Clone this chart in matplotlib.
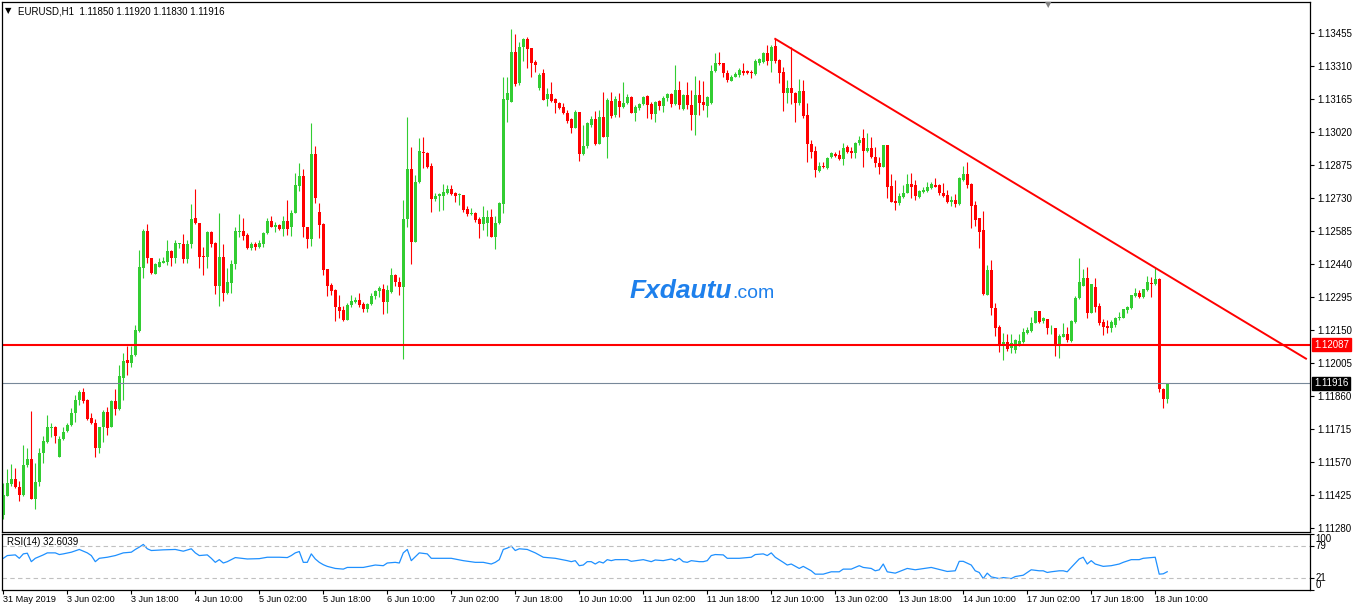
import numpy as np
import matplotlib.pyplot as plt

plt.rcParams['font.family'] = ['Liberation Sans', 'DejaVu Sans']

# ---- data: EURUSD H1 candles, bar 0 = 31 May 10:00 ----
opens = np.array([
    1.11339, 1.11423, 1.11475, 1.11497, 1.11461, 1.11427, 1.11556, 1.11584, 1.11411, 1.11484,
    1.11610, 1.11661, 1.11721, 1.11724, 1.11592, 1.11671, 1.11708, 1.11734, 1.11785, 1.11844,
    1.11878, 1.11844, 1.11764, 1.11742, 1.11632, 1.11724, 1.11793, 1.11727, 1.11837, 1.11803,
    1.11942, 1.12020, 1.12005, 1.12042, 1.12147, 1.12425, 1.12587, 1.12466, 1.12398, 1.12429,
    1.12447, 1.12448, 1.12498, 1.12469, 1.12529, 1.12529, 1.12461, 1.12529, 1.12641, 1.12620,
    1.12476, 1.12473, 1.12581, 1.12535, 1.12342, 1.12473, 1.12312, 1.12359, 1.12441, 1.12579,
    1.12586, 1.12568, 1.12510, 1.12529, 1.12517, 1.12529, 1.12576, 1.12631, 1.12605, 1.12612,
    1.12595, 1.12631, 1.12601, 1.12666, 1.12785, 1.12827, 1.12604, 1.12549, 1.12924, 1.12669,
    1.12617, 1.12419, 1.12349, 1.12327, 1.12254, 1.12239, 1.12195, 1.12261, 1.12276, 1.12283,
    1.12265, 1.12243, 1.12265, 1.12298, 1.12324, 1.12331, 1.12276, 1.12317, 1.12393, 1.12363,
    1.12339, 1.12637, 1.12858, 1.12539, 1.12802, 1.12934, 1.12927, 1.12871, 1.12725, 1.12740,
    1.12741, 1.12751, 1.12769, 1.12754, 1.12744, 1.12744, 1.12681, 1.12660, 1.12666, 1.12637,
    1.12617, 1.12619, 1.12649, 1.12558, 1.12622, 1.12703, 1.13161, 1.13153, 1.13373, 1.13234,
    1.13392, 1.13427, 1.13388, 1.13329, 1.13212, 1.13281, 1.13164, 1.13187, 1.13164, 1.13149,
    1.13129, 1.13105, 1.13076, 1.13036, 1.13107, 1.12924, 1.12959, 1.13051, 1.13076, 1.12968,
    1.13085, 1.13000, 1.13158, 1.13095, 1.13158, 1.13132, 1.13146, 1.13175, 1.13105, 1.13124,
    1.13142, 1.13178, 1.13143, 1.13099, 1.13156, 1.13134, 1.13168, 1.13187, 1.13143, 1.13205,
    1.13120, 1.13183, 1.13139, 1.13095, 1.13183, 1.13153, 1.13134, 1.13146, 1.13290, 1.13325,
    1.13322, 1.13281, 1.13246, 1.13260, 1.13271, 1.13290, 1.13288, 1.13285, 1.13275, 1.13325,
    1.13329, 1.13369, 1.13332, 1.13398, 1.13336, 1.13285, 1.13193, 1.13215, 1.13193, 1.13146,
    1.13200, 1.13095, 1.12968, 1.12937, 1.12850, 1.12872, 1.12861, 1.12912, 1.12922, 1.12919,
    1.12900, 1.12953, 1.12938, 1.12927, 1.12970, 1.12992, 1.12938, 1.12948, 1.12912, 1.12886,
    1.12868, 1.12963, 1.12783, 1.12719, 1.12707, 1.12736, 1.12754, 1.12792, 1.12788, 1.12736,
    1.12758, 1.12763, 1.12773, 1.12788, 1.12788, 1.12754, 1.12744, 1.12714, 1.12722, 1.12704,
    1.12810, 1.12836, 1.12792, 1.12700, 1.12641, 1.12590, 1.12305, 1.12414, 1.12249, 1.12166,
    1.12085, 1.12100, 1.12070, 1.12063, 1.12085, 1.12100, 1.12136, 1.12148, 1.12183, 1.12234,
    1.12192, 1.12198, 1.12158, 1.12158, 1.12090, 1.12122, 1.12133, 1.12104, 1.12188, 1.12290,
    1.12344, 1.12378, 1.12227, 1.12338, 1.12256, 1.12188, 1.12169, 1.12161, 1.12173, 1.12202,
    1.12205, 1.12239, 1.12246, 1.12300, 1.12312, 1.12297, 1.12327, 1.12359, 1.12353, 1.12373,
    1.11892, 1.11850])

highs = np.array([
    1.11478, 1.11540, 1.11563, 1.11544, 1.11486, 1.11647, 1.11632, 1.11797, 1.11566, 1.11632,
    1.11686, 1.11778, 1.11744, 1.11728, 1.11686, 1.11724, 1.11742, 1.11807, 1.11866, 1.11888,
    1.11898, 1.11848, 1.11785, 1.11759, 1.11727, 1.11800, 1.11815, 1.11844, 1.11891, 1.11998,
    1.12049, 1.12081, 1.12081, 1.12173, 1.12503, 1.12593, 1.12617, 1.12468, 1.12444, 1.12466,
    1.12473, 1.12546, 1.12503, 1.12546, 1.12535, 1.12573, 1.12546, 1.12704, 1.12770, 1.12622,
    1.12517, 1.12586, 1.12587, 1.12539, 1.12666, 1.12529, 1.12425, 1.12459, 1.12601, 1.12661,
    1.12641, 1.12576, 1.12539, 1.12539, 1.12546, 1.12579, 1.12641, 1.12652, 1.12627, 1.12617,
    1.12652, 1.12722, 1.12678, 1.12839, 1.12886, 1.12857, 1.12604, 1.13061, 1.12959, 1.12710,
    1.12620, 1.12419, 1.12359, 1.12331, 1.12305, 1.12257, 1.12268, 1.12305, 1.12295, 1.12315,
    1.12276, 1.12271, 1.12312, 1.12327, 1.12342, 1.12353, 1.12349, 1.12425, 1.12396, 1.12385,
    1.12722, 1.13085, 1.12956, 1.12832, 1.12993, 1.12997, 1.12934, 1.12883, 1.12751, 1.12754,
    1.12791, 1.12788, 1.12788, 1.12756, 1.12751, 1.12744, 1.12696, 1.12685, 1.12671, 1.12649,
    1.12696, 1.12678, 1.12681, 1.12652, 1.12715, 1.13263, 1.13263, 1.13472, 1.13450, 1.13417,
    1.13431, 1.13436, 1.13388, 1.13336, 1.13281, 1.13295, 1.13212, 1.13241, 1.13168, 1.13153,
    1.13149, 1.13117, 1.13080, 1.13117, 1.13107, 1.13051, 1.13066, 1.13091, 1.13114, 1.13117,
    1.13197, 1.13168, 1.13197, 1.13178, 1.13193, 1.13241, 1.13187, 1.13178, 1.13139, 1.13149,
    1.13178, 1.13183, 1.13153, 1.13158, 1.13161, 1.13178, 1.13190, 1.13193, 1.13314, 1.13246,
    1.13187, 1.13241, 1.13205, 1.13266, 1.13249, 1.13246, 1.13178, 1.13314, 1.13366, 1.13372,
    1.13322, 1.13292, 1.13271, 1.13285, 1.13300, 1.13322, 1.13292, 1.13292, 1.13339, 1.13344,
    1.13373, 1.13402, 1.13402, 1.13430, 1.13339, 1.13307, 1.13248, 1.13395, 1.13197, 1.13251,
    1.13248, 1.13149, 1.12985, 1.12959, 1.12890, 1.12890, 1.12912, 1.12934, 1.12934, 1.12941,
    1.12970, 1.12963, 1.12956, 1.12978, 1.13003, 1.13033, 1.13014, 1.12997, 1.12956, 1.12912,
    1.12963, 1.12963, 1.12836, 1.12810, 1.12751, 1.12788, 1.12836, 1.12842, 1.12810, 1.12766,
    1.12780, 1.12802, 1.12802, 1.12817, 1.12792, 1.12798, 1.12766, 1.12739, 1.12748, 1.12824,
    1.12871, 1.12890, 1.12795, 1.12719, 1.12641, 1.12675, 1.12436, 1.12458, 1.12271, 1.12173,
    1.12136, 1.12133, 1.12133, 1.12110, 1.12133, 1.12158, 1.12166, 1.12210, 1.12236, 1.12236,
    1.12207, 1.12198, 1.12173, 1.12158, 1.12133, 1.12180, 1.12166, 1.12195, 1.12300, 1.12466,
    1.12417, 1.12429, 1.12353, 1.12378, 1.12271, 1.12198, 1.12195, 1.12195, 1.12210, 1.12231,
    1.12242, 1.12256, 1.12305, 1.12334, 1.12327, 1.12330, 1.12388, 1.12385, 1.12422, 1.12378,
    1.11895, 1.11920])

lows = np.array([
    1.11320, 1.11420, 1.11464, 1.11456, 1.11402, 1.11420, 1.11551, 1.11411, 1.11364, 1.11466,
    1.11566, 1.11654, 1.11683, 1.11654, 1.11592, 1.11668, 1.11704, 1.11730, 1.11749, 1.11822,
    1.11829, 1.11756, 1.11739, 1.11595, 1.11613, 1.11657, 1.11690, 1.11724, 1.11778, 1.11800,
    1.11844, 1.11954, 1.11990, 1.12037, 1.12144, 1.12381, 1.12444, 1.12397, 1.12397, 1.12429,
    1.12444, 1.12437, 1.12434, 1.12447, 1.12510, 1.12447, 1.12447, 1.12510, 1.12617, 1.12425,
    1.12393, 1.12422, 1.12517, 1.12309, 1.12258, 1.12280, 1.12309, 1.12312, 1.12419, 1.12561,
    1.12546, 1.12505, 1.12503, 1.12500, 1.12513, 1.12517, 1.12573, 1.12605, 1.12583, 1.12590,
    1.12565, 1.12568, 1.12564, 1.12663, 1.12763, 1.12561, 1.12513, 1.12520, 1.12707, 1.12557,
    1.12393, 1.12302, 1.12305, 1.12192, 1.12202, 1.12192, 1.12195, 1.12254, 1.12268, 1.12254,
    1.12229, 1.12229, 1.12261, 1.12287, 1.12295, 1.12222, 1.12224, 1.12312, 1.12342, 1.12305,
    1.12023, 1.12605, 1.12440, 1.12539, 1.12795, 1.12861, 1.12861, 1.12668, 1.12719, 1.12675,
    1.12678, 1.12748, 1.12744, 1.12715, 1.12700, 1.12671, 1.12653, 1.12656, 1.12627, 1.12557,
    1.12590, 1.12564, 1.12558, 1.12505, 1.12617, 1.12666, 1.13066, 1.13153, 1.13222, 1.13227,
    1.13333, 1.13303, 1.13263, 1.13285, 1.13205, 1.13161, 1.13134, 1.13153, 1.13102, 1.13120,
    1.13098, 1.13058, 1.13017, 1.13036, 1.12894, 1.12919, 1.12949, 1.13044, 1.12963, 1.12968,
    1.12997, 1.12905, 1.13080, 1.13088, 1.13085, 1.13124, 1.13143, 1.13102, 1.13070, 1.13117,
    1.13139, 1.13080, 1.13076, 1.13066, 1.13117, 1.13110, 1.13158, 1.13129, 1.13139, 1.13120,
    1.13117, 1.13120, 1.13029, 1.13007, 1.13095, 1.13117, 1.13088, 1.13143, 1.13285, 1.13314,
    1.13260, 1.13238, 1.13244, 1.13260, 1.13260, 1.13271, 1.13275, 1.13256, 1.13271, 1.13314,
    1.13322, 1.13314, 1.13285, 1.13325, 1.13237, 1.13114, 1.13146, 1.13143, 1.13066, 1.13139,
    1.13080, 1.12890, 1.12905, 1.12821, 1.12846, 1.12861, 1.12856, 1.12908, 1.12912, 1.12897,
    1.12875, 1.12927, 1.12905, 1.12905, 1.12963, 1.12865, 1.12934, 1.12905, 1.12868, 1.12834,
    1.12865, 1.12729, 1.12714, 1.12678, 1.12700, 1.12729, 1.12751, 1.12729, 1.12722, 1.12729,
    1.12751, 1.12758, 1.12768, 1.12780, 1.12744, 1.12736, 1.12707, 1.12695, 1.12692, 1.12700,
    1.12807, 1.12773, 1.12597, 1.12608, 1.12510, 1.12305, 1.12305, 1.12217, 1.12125, 1.12056,
    1.12019, 1.12060, 1.12051, 1.12049, 1.12081, 1.12092, 1.12133, 1.12144, 1.12180, 1.12180,
    1.12183, 1.12132, 1.12133, 1.12037, 1.12027, 1.12119, 1.12100, 1.12100, 1.12180, 1.12286,
    1.12344, 1.12202, 1.12224, 1.12231, 1.12173, 1.12129, 1.12139, 1.12144, 1.12163, 1.12195,
    1.12202, 1.12227, 1.12242, 1.12297, 1.12290, 1.12290, 1.12324, 1.12297, 1.12349, 1.11877,
    1.11807, 1.11830])

closes = np.array([
    1.11427, 1.11478, 1.11497, 1.11461, 1.11427, 1.11559, 1.11584, 1.11411, 1.11484, 1.11610,
    1.11664, 1.11724, 1.11724, 1.11686, 1.11671, 1.11705, 1.11734, 1.11785, 1.11844, 1.11878,
    1.11837, 1.11761, 1.11742, 1.11632, 1.11724, 1.11793, 1.11722, 1.11837, 1.11803, 1.11949,
    1.12015, 1.12005, 1.12042, 1.12151, 1.12429, 1.12587, 1.12466, 1.12400, 1.12440, 1.12448,
    1.12456, 1.12498, 1.12469, 1.12532, 1.12530, 1.12464, 1.12529, 1.12639, 1.12620, 1.12473,
    1.12473, 1.12581, 1.12529, 1.12342, 1.12473, 1.12312, 1.12362, 1.12441, 1.12586, 1.12586,
    1.12565, 1.12510, 1.12529, 1.12517, 1.12535, 1.12577, 1.12631, 1.12605, 1.12612, 1.12595,
    1.12631, 1.12596, 1.12666, 1.12788, 1.12827, 1.12601, 1.12549, 1.12924, 1.12732, 1.12612,
    1.12415, 1.12346, 1.12323, 1.12254, 1.12236, 1.12195, 1.12261, 1.12280, 1.12283, 1.12261,
    1.12243, 1.12265, 1.12302, 1.12324, 1.12334, 1.12276, 1.12327, 1.12393, 1.12363, 1.12339,
    1.12639, 1.12858, 1.12539, 1.12802, 1.12937, 1.12927, 1.12868, 1.12725, 1.12740, 1.12748,
    1.12756, 1.12769, 1.12747, 1.12739, 1.12747, 1.12678, 1.12660, 1.12666, 1.12634, 1.12617,
    1.12646, 1.12649, 1.12558, 1.12622, 1.12707, 1.13165, 1.13190, 1.13373, 1.13231, 1.13395,
    1.13427, 1.13383, 1.13322, 1.13314, 1.13271, 1.13161, 1.13187, 1.13156, 1.13149, 1.13124,
    1.13102, 1.13069, 1.13036, 1.13107, 1.12924, 1.12959, 1.13061, 1.13076, 1.12968, 1.13085,
    1.12997, 1.13161, 1.13091, 1.13164, 1.13132, 1.13149, 1.13173, 1.13105, 1.13129, 1.13143,
    1.13173, 1.13139, 1.13099, 1.13153, 1.13134, 1.13171, 1.13187, 1.13143, 1.13205, 1.13139,
    1.13183, 1.13139, 1.13095, 1.13183, 1.13146, 1.13139, 1.13175, 1.13290, 1.13325, 1.13317,
    1.13278, 1.13249, 1.13263, 1.13275, 1.13292, 1.13281, 1.13281, 1.13278, 1.13333, 1.13339,
    1.13369, 1.13333, 1.13395, 1.13333, 1.13281, 1.13193, 1.13215, 1.13190, 1.13146, 1.13200,
    1.13090, 1.12968, 1.12934, 1.12853, 1.12871, 1.12865, 1.12905, 1.12927, 1.12915, 1.12900,
    1.12948, 1.12934, 1.12927, 1.12970, 1.12985, 1.12938, 1.12948, 1.12909, 1.12886, 1.12865,
    1.12963, 1.12780, 1.12714, 1.12710, 1.12739, 1.12754, 1.12792, 1.12780, 1.12741, 1.12761,
    1.12766, 1.12780, 1.12792, 1.12780, 1.12751, 1.12739, 1.12714, 1.12722, 1.12704, 1.12817,
    1.12836, 1.12788, 1.12695, 1.12634, 1.12583, 1.12309, 1.12414, 1.12246, 1.12158, 1.12085,
    1.12100, 1.12066, 1.12092, 1.12107, 1.12104, 1.12144, 1.12151, 1.12183, 1.12234, 1.12188,
    1.12202, 1.12158, 1.12161, 1.12090, 1.12125, 1.12133, 1.12107, 1.12191, 1.12293, 1.12363,
    1.12378, 1.12227, 1.12352, 1.12254, 1.12180, 1.12166, 1.12158, 1.12188, 1.12202, 1.12210,
    1.12242, 1.12254, 1.12303, 1.12312, 1.12297, 1.12330, 1.12363, 1.12353, 1.12373, 1.11892,
    1.11847, 1.11916])

# RSI(14) (bar index, value)
rsi_bars = [0, 1, 3, 4, 5, 6, 7, 8, 10, 11, 13, 14, 15, 17, 19, 21, 22, 23, 24, 26,
            28, 30, 32, 33, 34, 35, 36, 37, 40, 43, 45, 47, 48, 49, 51, 52, 53, 54, 55, 56,
            58, 61, 64, 66, 69, 71, 72, 73, 74, 75, 76, 77, 78, 79, 80, 81, 83, 85, 86, 90,
            93, 95, 96, 98, 99, 100, 101, 102, 104, 106, 107, 109, 112, 115, 118, 120, 122, 123, 124, 125,
            126, 127, 128, 129, 131, 133, 135, 138, 141, 142, 143, 144, 145, 146, 147, 148, 149, 150, 151, 152,
            153, 156, 157, 160, 162, 163, 165, 167, 168, 169, 170, 171, 172, 174, 175, 176, 177, 178, 180, 181,
            184, 187, 188, 190, 191, 192, 193, 195, 196, 197, 199, 200, 202, 203, 205, 207, 209, 210, 212, 214,
            215, 217, 218, 219, 220, 221, 223, 226, 228, 232, 233, 236, 238, 239, 240, 242, 243, 244, 245, 246,
            247, 249, 250, 252, 253, 255, 257, 259, 260, 261, 262, 264, 265, 266, 267, 269, 270, 271, 272, 273,
            275, 277, 279, 280, 282, 284, 285, 288, 289, 290, 291]
rsi_vals = [56.6, 61.5, 62.7, 56.6, 64.5, 65.7, 50.6, 56.6, 62.7, 66.3, 66.3, 63.3, 64.5, 67.5, 72.4, 66.3, 61.5, 50.6, 56.6, 58.5,
            61.5, 66.3, 67.5, 72.4, 76.6, 81.4, 73.6, 70.5, 71.7, 72.4, 69.3, 73.6, 66.3, 61.5, 62.7, 56.6, 49.4, 54.2, 48.2, 50.6,
            57.9, 55.4, 56.0, 58.5, 58.5, 57.9, 61.5, 66.3, 68.7, 49.4, 49.4, 64.5, 55.4, 49.4, 45.2, 42.2, 38.5, 37.3, 40.3, 40.3,
            44.6, 43.4, 48.2, 49.4, 48.2, 66.3, 72.4, 52.4, 66.3, 64.5, 56.6, 56.6, 56.6, 52.4, 49.4, 49.4, 46.4, 49.4, 54.2, 72.4,
            74.8, 78.4, 70.5, 73.6, 72.4, 66.3, 58.5, 56.6, 52.4, 50.6, 52.4, 43.4, 44.6, 50.6, 50.6, 46.4, 50.6, 48.2, 54.2, 52.4,
            54.2, 54.2, 51.2, 54.2, 50.6, 53.6, 52.4, 55.4, 52.4, 56.6, 50.6, 49.4, 52.4, 50.6, 50.6, 52.4, 61.5, 63.3, 62.7, 56.6,
            56.6, 58.5, 63.3, 64.5, 61.5, 66.3, 58.5, 49.4, 44.6, 46.4, 38.5, 42.2, 34.3, 28.3, 28.3, 32.5, 32.5, 37.3, 37.3, 43.4,
            40.3, 38.5, 34.3, 36.0, 46.4, 32.5, 30.1, 38.5, 36.1, 40.3, 38.5, 33.1, 34.3, 51.2, 51.2, 44.6, 34.3, 31.3, 20.4, 30.1,
            23.4, 20.4, 22.2, 20.4, 24.0, 26.4, 36.1, 34.3, 34.3, 31.3, 32.5, 34.3, 34.3, 32.5, 40.3, 55.4, 58.5, 46.4, 52.4, 46.4,
            42.2, 43.4, 46.4, 49.4, 54.2, 54.2, 56.6, 58.5, 28.3, 28.9, 32.6]

price_ticks = [1.11280, 1.11425, 1.11570, 1.11715, 1.11860, 1.12005, 1.12150, 1.12295,
               1.12440, 1.12585, 1.12730, 1.12875, 1.13020, 1.13165, 1.13310, 1.13455]
rsi_levels = [0, 21, 79, 100]
date_ticks = [0, 16, 32, 48, 64, 80, 96, 112, 128, 144, 160, 176, 192, 208, 224, 240, 256, 272, 288]
date_labels = ['31 May 2019', '3 Jun 02:00', '3 Jun 18:00', '4 Jun 10:00', '5 Jun 02:00',
               '5 Jun 18:00', '6 Jun 10:00', '7 Jun 02:00', '7 Jun 18:00', '10 Jun 10:00',
               '11 Jun 02:00', '11 Jun 18:00', '12 Jun 10:00', '13 Jun 02:00', '13 Jun 18:00',
               '14 Jun 10:00', '17 Jun 02:00', '17 Jun 18:00', '18 Jun 10:00']

support_level = 1.12087
last_price = 1.11916
trend_x = [193, 325.7]
trend_y = [1.13429, 1.12025]

# ---- figure ----
W, H = 1355, 605
fig = plt.figure(figsize=(W / 100, H / 100), dpi=100)
ax = fig.add_axes([2 / W, 73 / H, 1308 / W, 530 / H])
ax_rsi = fig.add_axes([2 / W, 15 / H, 1308 / W, 56 / H])

x = np.arange(len(closes))
up = closes >= opens
cols = np.where(up, '#32CD32', '#FF0000')

ax.vlines(x, lows, highs, colors=cols, lw=0.8)
body = np.maximum(np.abs(closes - opens), 0.00002)
ax.bar(x, body, bottom=np.minimum(opens, closes), width=0.75, color=cols, linewidth=0)

ax.axhline(support_level, color='#FF0000', lw=1.5)
ax.axhline(last_price, color='#778899', lw=0.8)
ax.plot(trend_x, trend_y, color='#FF0000', lw=1.4)

ax.set_xlim(-0.33, 326.7)
ax.set_ylim(1.11264, 1.13591)
ax.set_xticks([])
ax.yaxis.tick_right()
ax.set_yticks(price_ticks)
ax.set_yticklabels(['%.5f' % p for p in price_ticks])
ax.tick_params(axis='y', direction='out', length=3, pad=2, labelsize=7)
for s in ax.spines.values():
    s.set_linewidth(0.9)

# price tags
ytr = ax.get_yaxis_transform()
ax.text(1.003, support_level, '%.5f' % support_level, transform=ytr, ha='left', va='center',
        color='white', fontsize=7, bbox=dict(boxstyle='square,pad=0.2', fc='#FF0000', ec='#FF0000'))
ax.text(1.003, last_price, '%.5f' % last_price, transform=ytr, ha='left', va='center',
        color='white', fontsize=7, bbox=dict(boxstyle='square,pad=0.2', fc='black', ec='black'))

# header + chart shift marker
fig.text(5 / W, 1 - 11 / H, '▼', fontsize=6, va='center', ha='left', family=['DejaVu Sans'])
fig.text(18 / W, 1 - 11 / H, 'EURUSD,H1  1.11850 1.11920 1.11830 1.11916', fontsize=7, va='center')
fig.text(1048 / W, 1 - 5 / H, '▼', fontsize=6, color='#808080', ha='center', va='center',
         family=['DejaVu Sans'])

# watermark
fig.text(630 / W, (H - 298) / H, 'Fxdautu', fontsize=19, fontweight='bold', fontstyle='italic',
         color='#1E80EC', va='baseline')
fig.text(732 / W, (H - 298) / H, '.com', fontsize=14, color='#1E80EC', va='baseline')

# ---- RSI panel ----
ax_rsi.plot(rsi_bars, rsi_vals, color='#1E90FF', lw=0.9)
for lv in [79, 21]:
    ax_rsi.axhline(lv, color='#C0C0C0', lw=0.8, ls=(0, (4, 3)))
ax_rsi.set_xlim(-0.33, 326.7)
ax_rsi.set_ylim(0, 100)
ax_rsi.yaxis.tick_right()
ax_rsi.set_yticks(rsi_levels)
ax_rsi.set_yticklabels([])
ax_rsi.tick_params(axis='y', direction='out', length=3)
rtr = ax_rsi.get_yaxis_transform()
for lv in rsi_levels:
    va = 'top' if lv == 100 else ('bottom' if lv == 0 else 'center')
    ax_rsi.text(1.004, lv, str(lv), transform=rtr, fontsize=7, ha='left', va=va)
ax_rsi.set_xticks(date_ticks)
ax_rsi.set_xticklabels(date_labels, ha='left')
ax_rsi.tick_params(axis='x', direction='out', length=3, pad=0.5, labelsize=6.6)
for s in ax_rsi.spines.values():
    s.set_linewidth(0.9)
ax_rsi.text(0.004, 85, 'RSI(14) 32.6039', transform=ax_rsi.get_yaxis_transform(),
            fontsize=7, va='center', ha='left')

fig.savefig('out.png', dpi=100)
